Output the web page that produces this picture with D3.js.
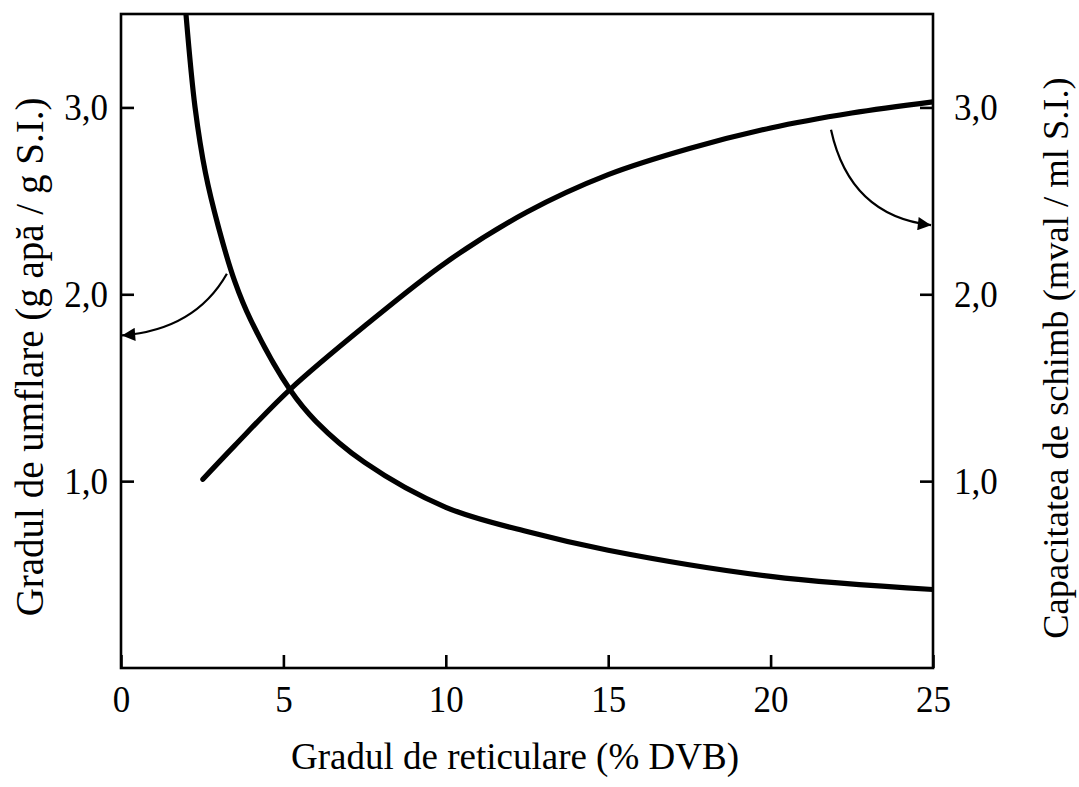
<!DOCTYPE html>
<html>
<head>
<meta charset="utf-8">
<script src="https://cdn.jsdelivr.net/npm/d3@7"></script>
<style>
  html, body { margin: 0; padding: 0; background: #fff; }
  svg { display: block; }
  text { font-family: "Liberation Serif", "Times New Roman", serif; fill: #000; }
</style>
</head>
<body>
<svg id="chart" width="1079" height="787"></svg>
<script>
// Crosslinking degree (% DVB) ticks and axis values
const xTicks = [0, 5, 10, 15, 20, 25];
const yTicks = [1, 2, 3];
const yTickLabels = ["1,0", "2,0", "3,0"];

// Swelling degree (g water / g resin) vs. % DVB
const swellingX = [1.95, 2.0, 2.28, 2.6, 3.0, 3.5, 4.0, 5.2, 6.0, 7.5, 10, 12.5, 15, 20, 25];
const swellingY = [3.62, 3.5, 3.0, 2.65, 2.36, 2.07, 1.86, 1.49, 1.32, 1.10, 0.86, 0.73, 0.63, 0.49, 0.42];

// Exchange capacity (mval / ml resin) vs. % DVB
const capacityX = [2.52, 3.5, 5.2, 7.5, 10, 12.5, 15, 17.5, 20, 22.5, 25];
const capacityY = [1.01, 1.19, 1.49, 1.83, 2.17, 2.44, 2.64, 2.78, 2.89, 2.97, 3.03];

// Pointer arrows linking each curve to its axis: [start, control, end] in data units
const leftArrow = [[3.26, 2.11], [2.28, 1.81], [0.03, 1.78]];
const rightArrow = [[21.86, 2.88], [22.44, 2.42], [24.94, 2.37]];

const margin = { left: 121, top: 14, right: 146, bottom: 119 };
const svg = d3.select("#chart");
const W = +svg.attr("width"), H = +svg.attr("height");
const iw = W - margin.left - margin.right;
const ih = H - margin.top - margin.bottom;

const x = d3.scaleLinear().domain([0, 25]).range([0, iw]);
const y = d3.scaleLinear().domain([0, 3.5]).range([ih, 0]);

const g = svg.append("g").attr("transform", `translate(${margin.left},${margin.top})`);

const defs = svg.append("defs");
defs.append("clipPath").attr("id", "plotClip")
  .append("rect").attr("x", 0).attr("y", 0).attr("width", iw).attr("height", ih);
defs.append("marker")
  .attr("id", "head")
  .attr("viewBox", "0 0 10 10")
  .attr("refX", 10).attr("refY", 5)
  .attr("markerWidth", 7).attr("markerHeight", 6)
  .attr("markerUnits", "strokeWidth")
  .attr("orient", "auto")
  .append("path").attr("d", "M0,0 L10,5 L0,10 Z").attr("fill", "#000");

// Frame
g.append("rect")
  .attr("x", 0).attr("y", 0).attr("width", iw).attr("height", ih)
  .attr("fill", "none").attr("stroke", "#000").attr("stroke-width", 2.6);

// Axes with inward ticks
const tickLen = 13;
const bottomAxis = d3.axisBottom(x).tickValues(xTicks).tickSizeInner(-tickLen).tickSizeOuter(0).tickPadding(tickLen + 3).tickFormat(d3.format("d"));
const leftAxis = d3.axisLeft(y).tickValues(yTicks).tickSizeInner(-tickLen).tickSizeOuter(0).tickPadding(tickLen + 0).tickFormat((d, i) => yTickLabels[i]);
const rightAxis = d3.axisRight(y).tickValues(yTicks).tickSizeInner(-tickLen).tickSizeOuter(0).tickPadding(tickLen + 8).tickFormat((d, i) => yTickLabels[i]);

function styleAxis(sel) {
  sel.select(".domain").remove();
  sel.selectAll(".tick line").attr("stroke", "#000").attr("stroke-width", 2.6);
  sel.selectAll(".tick text")
    .attr("font-size", 35)
    .attr("font-family", "Liberation Serif, serif")
    .attr("transform", "scale(1,1.08)");
}

g.append("g").attr("transform", `translate(0,${ih})`).call(bottomAxis).call(styleAxis);
g.append("g").call(leftAxis).call(styleAxis);
g.append("g").attr("transform", `translate(${iw},0)`).call(rightAxis).call(styleAxis);

// Curves
const line = d3.line().x(d => x(d[0])).y(d => y(d[1])).curve(d3.curveCatmullRom.alpha(0.5));
const curves = g.append("g").attr("clip-path", "url(#plotClip)");
curves.append("path")
  .datum(swellingX.map((v, i) => [v, swellingY[i]]))
  .attr("d", line).attr("fill", "none").attr("stroke", "#000").attr("stroke-width", 5.2);
curves.append("path")
  .datum(capacityX.map((v, i) => [v, capacityY[i]]))
  .attr("d", line).attr("fill", "none").attr("stroke", "#000").attr("stroke-width", 5.2)
  .attr("stroke-linecap", "round");

// Arrows
function arrowPath(pts) {
  const p = d3.path();
  p.moveTo(x(pts[0][0]), y(pts[0][1]));
  p.quadraticCurveTo(x(pts[1][0]), y(pts[1][1]), x(pts[2][0]), y(pts[2][1]));
  return p.toString();
}
[leftArrow, rightArrow].forEach(a => {
  g.append("path").attr("d", arrowPath(a))
    .attr("fill", "none").attr("stroke", "#000").attr("stroke-width", 2.2)
    .attr("marker-end", "url(#head)");
});

// Axis titles
svg.append("text")
  .attr("x", 515).attr("y", 769)
  .attr("text-anchor", "middle").attr("font-size", 37)
  .text("Gradul de reticulare (% DVB)");
svg.append("text")
  .attr("transform", `translate(43,357) rotate(-90)`)
  .attr("text-anchor", "middle").attr("font-size", 39)
  .text("Gradul de umflare (g apă / g S.I.)");
svg.append("text")
  .attr("transform", `translate(1068,358) rotate(-90)`)
  .attr("text-anchor", "middle").attr("font-size", 36.5)
  .text("Capacitatea de schimb (mval / ml S.I.)");
</script>
</body>
</html>
